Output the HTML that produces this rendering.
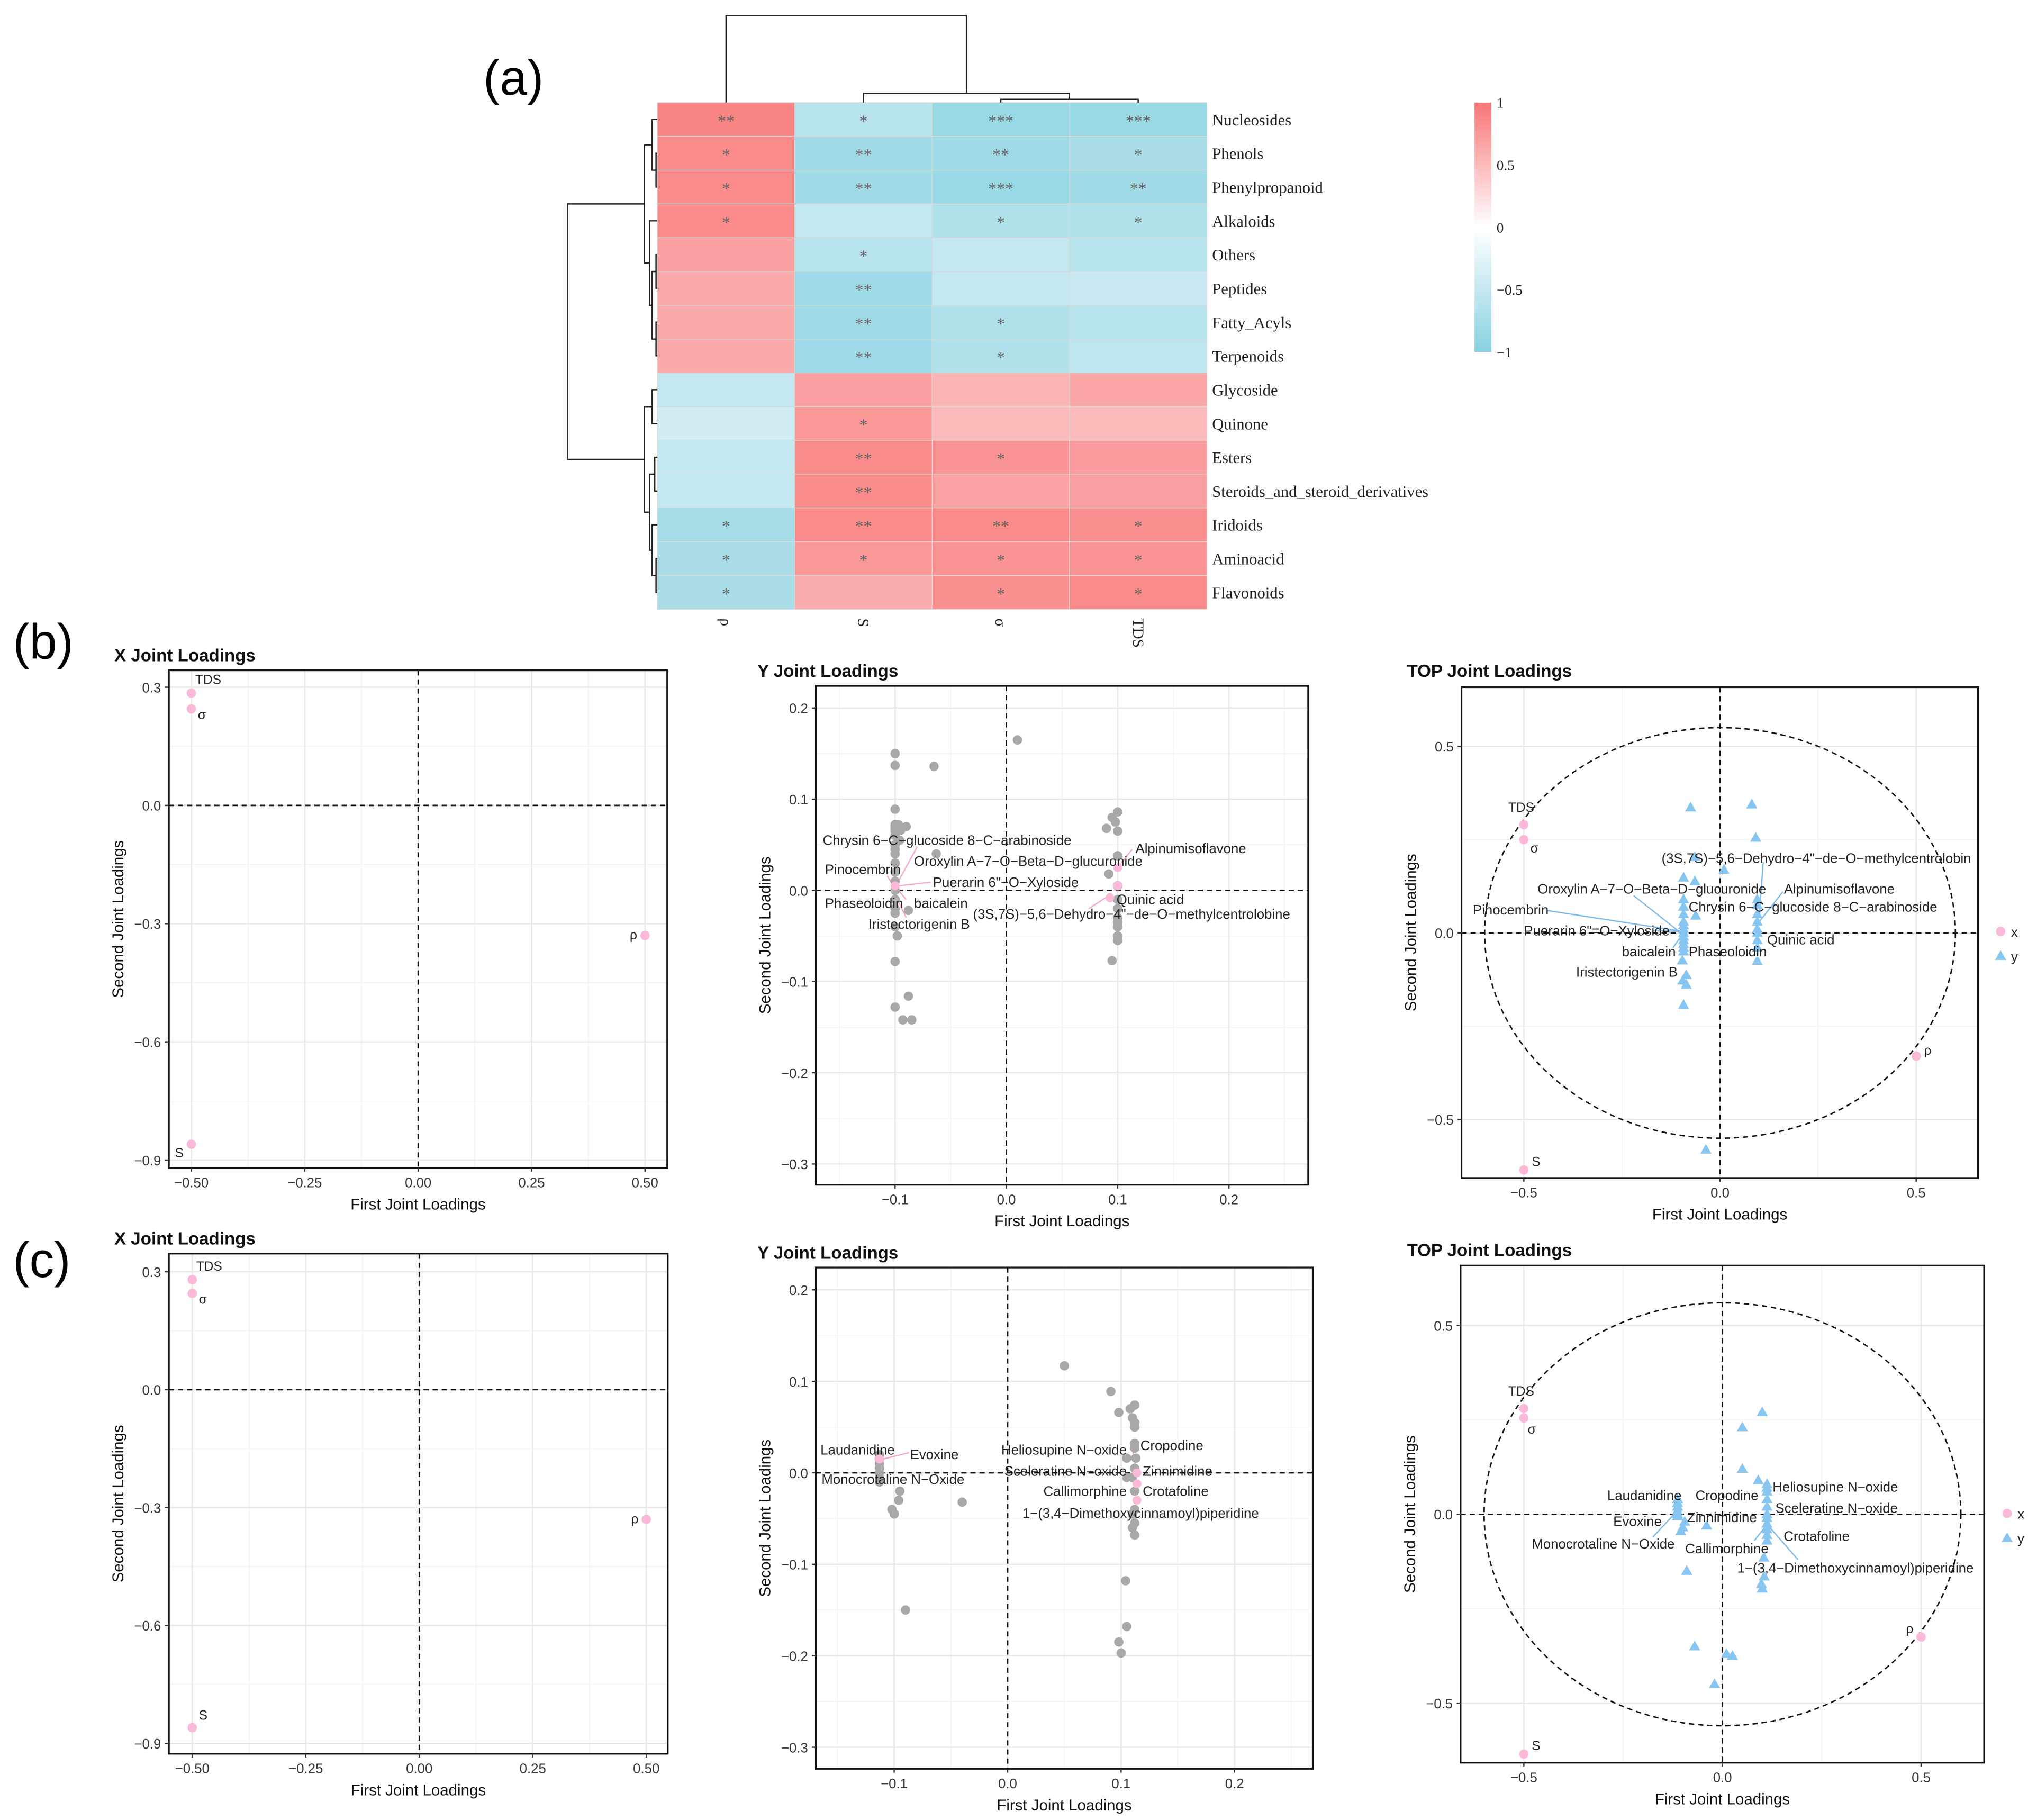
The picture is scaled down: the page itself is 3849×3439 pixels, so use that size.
<!DOCTYPE html>
<html><head><meta charset="utf-8"><style>
html,body{margin:0;padding:0;background:#fff;}
svg{display:block;}
</style></head><body>
<svg id="fig" width="3849" height="3439" viewBox="0 0 1568 1401" preserveAspectRatio="none" font-family="'Liberation Sans', sans-serif">
<rect x="0" y="0" width="1568" height="1401" fill="#fff"/>
<text x="372" y="73" font-size="38">(a)</text>
<text x="10" y="507" font-size="38">(b)</text>
<text x="10" y="983" font-size="38">(c)</text>
</svg>
<script>
// ---------- Heatmap data ----------
const rowsH = ['Nucleosides','Phenols','Phenylpropanoid','Alkaloids','Others','Peptides','Fatty_Acyls','Terpenoids','Glycoside','Quinone','Esters','Steroids_and_steroid_derivatives','Iridoids','Aminoacid','Flavonoids'];
const colsH = ['ρ','S','σ','TDS'];
const valRho = [0.9,0.85,0.85,0.85,0.7,0.62,0.62,0.62,-0.5,-0.4,-0.5,-0.5,-0.75,-0.72,-0.72];
const valS = [-0.6,-0.8,-0.8,-0.5,-0.6,-0.82,-0.8,-0.82,0.7,0.75,0.85,0.85,0.85,0.75,0.6];
const valSigma = [-0.85,-0.8,-0.85,-0.65,-0.5,-0.5,-0.65,-0.65,0.55,0.5,0.78,0.68,0.85,0.78,0.8];
const valTDS = [-0.85,-0.72,-0.8,-0.65,-0.6,-0.45,-0.6,-0.55,0.65,0.5,0.72,0.7,0.82,0.78,0.85];
const starRho = ['**','*','*','*','','','','','','','','','*','*','*'];
const starS = ['*','**','**','','*','**','**','**','','*','**','**','**','*',''];
const starSigma = ['***','**','***','*','','','*','*','','','*','','**','*','*'];
const starTDS = ['***','*','**','*','','','','','','','','','*','*','*'];
const cbTicks = [1,0.5,0,-0.5,-1];
const cbTickLabels = ['1','0.5','0','\u22120.5','\u22121'];

// ---------- X joint loadings ----------
const xLabels = ['TDS','σ','S','ρ'];
const xLoadB1 = [-0.5,-0.5,-0.5,0.5];
const xLoadB2 = [0.285,0.245,-0.86,-0.33];
const xLoadC1 = [-0.5,-0.5,-0.5,0.5];
const xLoadC2 = [0.28,0.245,-0.86,-0.33];

// ---------- Y joint loadings (b) ----------
const yB1 = [-0.1,-0.1,-0.1,-0.1,-0.1,-0.1,-0.1,-0.1,-0.1,-0.1,-0.1,-0.1,-0.1,-0.1,-0.1,-0.1,-0.1,-0.1,-0.1,-0.098,-0.1,-0.1,-0.097,-0.095,-0.09,-0.065,-0.063,-0.088,-0.088,-0.085,-0.093,-0.096,
  0.1,0.095,0.098,0.09,0.1,0.1,0.092,0.1,0.1,0.1,0.1,0.1,0.1,0.1,0.1,0.095,0.01];
const yB2 = [0.15,0.137,0.089,0.072,0.07,0.068,0.065,0.06,0.05,0.045,0.04,0.03,0.02,0.01,0.0,-0.01,-0.02,-0.025,-0.04,-0.05,-0.078,-0.128,0.072,0.066,0.07,0.136,0.04,-0.022,-0.116,-0.142,-0.142,0.055,
  0.086,0.08,0.075,0.068,0.065,0.038,0.018,0.005,-0.01,-0.02,-0.03,-0.04,-0.05,-0.055,-0.035,-0.077,0.165];
const yB1hl = [0.1,0.1,0.093,-0.1];
const yB2hl = [0.025,0.005,-0.008,0.005];
const yBLabels = ['Chrysin 6\u2212C\u2212glucoside 8\u2212C\u2212arabinoside','Oroxylin A\u22127\u2212O\u2212Beta\u2212D\u2212glucuronide','Pinocembrin','Puerarin 6"\u2212O\u2212Xyloside','Phaseoloidin','baicalein','Iristectorigenin B','Alpinumisoflavone','Quinic acid','(3S,7S)\u22125,6\u2212Dehydro\u22124"\u2212de\u2212O\u2212methylcentrolobine'];
const yBLabX = [-0.165,-0.083,-0.163,-0.066,-0.163,-0.083,-0.124,0.116,0.099,-0.03];
const yBLabY = [0.055,0.032,0.023,0.009,-0.014,-0.014,-0.037,0.046,-0.01,-0.026];

// ---------- Y joint loadings (c) ----------
const yC1 = [-0.113,-0.113,-0.113,-0.113,-0.113,-0.113,-0.113,-0.095,-0.096,-0.102,-0.1,-0.04,-0.09,
  0.05,0.091,0.098,0.108,0.112,0.11,0.112,0.112,0.112,0.112,0.105,0.113,0.112,0.11,0.105,0.112,0.112,0.11,0.112,0.11,0.112,0.104,0.105,0.098,0.1];
const yC2 = [0.02,0.015,0.01,0.005,0.0,-0.005,-0.01,-0.02,-0.03,-0.04,-0.045,-0.032,-0.15,
  0.117,0.089,0.066,0.07,0.074,0.06,0.055,0.05,0.032,0.027,0.016,0.016,0.005,-0.005,-0.005,-0.02,-0.04,-0.045,-0.055,-0.06,-0.068,-0.118,-0.168,-0.185,-0.197];
const yC1hl = [0.114,0.114,0.114,-0.113];
const yC2hl = [0.0,-0.012,-0.03,0.015];
const yCLabels = ['Laudanidine','Evoxine','Monocrotaline N\u2212Oxide','Heliosupine N\u2212oxide','Cropodine','Sceleratine N\u2212oxide','Zinnimidine','Callimorphine','Crotafoline','1\u2212(3,4\u2212Dimethoxycinnamoyl)piperidine'];
const yCLabX = [-0.165,-0.086,-0.164,0.105,0.117,0.105,0.119,0.105,0.119,0.013];
const yCLabY = [0.025,0.02,-0.007,0.025,0.03,0.002,0.002,-0.02,-0.02,-0.044];
const yCLabAnchor = ['start','start','start','end','start','end','start','end','start','start'];

// ---------- TOP joint loadings (b) ---------- order: TDS, σ, S, ρ
const topBx1 = [-0.5,-0.5,-0.5,0.5];
const topBx2 = [0.29,0.25,-0.635,-0.33];
const topBy1 = [-0.075,0.081,0.091,0.01,-0.064,-0.093,-0.064,-0.062,-0.093,-0.093,-0.093,-0.093,-0.093,-0.093,-0.093,-0.093,-0.093,-0.093,-0.093,-0.093,-0.096,-0.086,-0.095,-0.086,-0.093,-0.036,0.095,0.095,0.095,0.095,0.095,0.095,0.095,0.095,0.095];
const topBy2 = [0.336,0.344,0.255,0.169,0.203,0.148,0.138,0.046,0.09,0.07,0.05,0.03,0.02,0.01,0.0,-0.01,-0.02,-0.03,-0.04,-0.05,-0.074,-0.113,-0.128,-0.139,-0.193,-0.581,0.09,0.075,0.05,0.03,0.01,0.0,-0.02,-0.04,-0.075];
const topBLabels = ['(3S,7S)\u22125,6\u2212Dehydro\u22124"\u2212de\u2212O\u2212methylcentrolobin','Oroxylin A\u22127\u2212O\u2212Beta\u2212D\u2212glucuronide','Alpinumisoflavone','Pinocembrin','Chrysin 6\u2212C\u2212glucoside 8\u2212C\u2212arabinoside','Puerarin 6"=O\u2212Xyloside','Quinic acid','baicalein','Phaseoloidin','Iristectorigenin B'];
const topBLabX = [-0.149,-0.465,0.163,-0.63,-0.08,-0.5,0.12,-0.25,-0.08,-0.367];
const topBLabY = [0.2,0.118,0.118,0.062,0.07,0.006,-0.018,-0.05,-0.05,-0.105];

// ---------- TOP joint loadings (c) ---------- order: TDS, σ, S, ρ
const topCx1 = [-0.5,-0.5,-0.5,0.5];
const topCx2 = [0.28,0.255,-0.635,-0.325];
const topCy1 = [-0.113,-0.113,-0.113,-0.113,-0.113,-0.113,-0.095,-0.1,-0.105,-0.04,-0.09,0.1,0.05,0.05,0.09,0.112,0.112,0.112,0.112,0.112,0.112,0.112,0.112,0.112,0.112,0.112,0.104,0.105,0.098,0.1,-0.07,0.01,0.025,-0.02];
const topCy2 = [0.04,0.03,0.02,0.01,0.0,-0.005,-0.02,-0.035,-0.045,-0.03,-0.15,0.27,0.23,0.12,0.09,0.08,0.06,0.04,0.02,0.0,-0.01,-0.025,-0.04,-0.055,-0.07,0.07,-0.115,-0.165,-0.185,-0.197,-0.35,-0.37,-0.375,-0.45];
const topCLabels = ['Heliosupine N\u2212oxide','Laudanidine','Cropodine','Sceleratine N\u2212oxide','Evoxine','Zinnimidine','Crotafoline','Monocrotaline N\u2212Oxide','Callimorphine','1\u2212(3,4\u2212Dimethoxycinnamoyl)piperidine'];
const topCLabX = [0.126,-0.29,-0.068,0.133,-0.275,-0.089,0.154,-0.48,-0.094,0.037];
const topCLabY = [0.072,0.05,0.05,0.016,-0.019,-0.008,-0.058,-0.078,-0.091,-0.142];

const svg = document.getElementById('fig');
const NS = svg.namespaceURI;
function mk(tag, attrs, parent){
  const e = document.createElementNS(NS, tag);
  for (const k in attrs) e.setAttribute(k, attrs[k]);
  (parent || svg).appendChild(e);
  return e;
}
function txt(s, attrs, parent){ const e = mk('text', attrs, parent); e.textContent = s; return e; }

// ---------------- Heatmap ----------------
(function(){
  const g = mk('g', {});
  
  
  const left = 506, top = 79, cw = 105.75, rh = 26;
  const cols = [valRho, valS, valSigma, valTDS];
  const stars = [starRho, starS, starSigma, starTDS];
  function col(v){
    const t = Math.max(-1, Math.min(1, v));
    let c = t >= 0 ? [248,118,118] : [135,209,224];
    const a = Math.abs(t);
    return 'rgb(' + c.map(x => Math.round(255 + (x - 255) * a)).join(',') + ')';
  }
  for (let j = 0; j < colsH.length; j++) {
    for (let i = 0; i < rowsH.length; i++) {
      const r = mk('rect', {x: left + j*cw, y: top + i*rh, width: cw, height: rh, fill: col(cols[j][i]), stroke: '#d8d8d8', 'stroke-width': 0.5}, g);
      
      
      if (stars[j][i]) {
        const s = txt(stars[j][i], {x: left + j*cw + cw/2, y: top + i*rh + rh/2 + 5.5, 'text-anchor': 'middle', 'font-size': 13, fill: '#666', 'font-family': "'Liberation Serif', serif"}, g);
        
        
      }
    }
    const cl = txt(colsH[j], {x: 0, y: 0, transform: 'translate(' + (left + j*cw + cw/2 - 4) + ',476) rotate(90)', 'font-size': 12, 'font-family': "'Liberation Serif', serif", fill: '#222'}, g);
    
    
  }
  for (let i = 0; i < rowsH.length; i++) {
    const rl = txt(rowsH[i], {x: 933, y: top + i*rh + rh/2 + 4.5, 'font-size': 12.5, 'font-family': "'Liberation Serif', serif", fill: '#222'}, g);
    
    
  }
  const dg = mk('g', {stroke: '#222', 'stroke-width': 1, fill: 'none'}, g);
  
  
  const ry = i => top + i*rh + rh/2;
  function rj(a, b, x){
    mk('path', {d: 'M' + a.x + ',' + a.y + 'H' + x + 'V' + b.y + 'H' + b.x}, dg);
    return {x: x, y: (a.y + b.y)/2};
  }
  const L = i => ({x: left, y: ry(i)});
  const pp = rj(L(1), L(2), 505);
  const A = rj(L(0), pp, 502);
  const op = rj(L(4), L(5), 505);
  const ft = rj(L(6), L(7), 505);
  const rest = rj(op, ft, 502);
  const B = rj(L(3), rest, 500);
  const top1 = rj(A, B, 496);
  const gq = rj(L(8), L(9), 502);
  const es = rj(L(10), L(11), 504);
  const af = rj(L(13), L(14), 505);
  const ir = rj(L(12), af, 502);
  const r2 = rj(es, ir, 500);
  const bot = rj(gq, r2, 496);
  rj(top1, bot, 437);
  const C = j => ({x: left + j*cw + cw/2, y: top});
  function cj(a, b, y){
    mk('path', {d: 'M' + a.x + ',' + a.y + 'V' + y + 'H' + b.x + 'V' + b.y}, dg);
    return {x: (a.x + b.x)/2, y: y};
  }
  const st = cj(C(2), C(3), 76.5);
  const sst = cj(C(1), st, 72);
  cj(C(0), sst, 12);
  const defs = mk('defs', {});
  const lg = mk('linearGradient', {id: 'cbg', x1: 0, y1: 0, x2: 0, y2: 1}, defs);
  mk('stop', {offset: '0', 'stop-color': col(1)}, lg);
  mk('stop', {offset: '0.25', 'stop-color': col(0.5)}, lg);
  mk('stop', {offset: '0.5', 'stop-color': '#fff'}, lg);
  mk('stop', {offset: '0.75', 'stop-color': col(-0.5)}, lg);
  mk('stop', {offset: '1', 'stop-color': col(-1)}, lg);
  const cb = mk('rect', {x: 1135, y: 79, width: 13, height: 192, fill: 'url(#cbg)'}, g);
  
  
  for (let k = 0; k < cbTicks.length; k++) {
    const y = 79 + (1 - cbTicks[k]) / 2 * 192;
    const t = txt(cbTickLabels[k], {x: 1152, y: y + 4, 'font-size': 11, 'font-family': "'Liberation Serif', serif", fill: '#222'}, g);
    
    
  }
})();

// ---------------- Scatter panels ----------------
function panel(o){
  const g = mk('g', {});
  
  
  const X = v => o.xp1 + (v - o.xv1) * (o.xp2 - o.xp1) / (o.xv2 - o.xv1);
  const Y = v => o.yp1 + (v - o.yv1) * (o.yp2 - o.yp1) / (o.yv2 - o.yv1);
  const clip = 'clip' + o.name;
  const cp = mk('clipPath', {id: clip}, g);
  mk('rect', {x: o.bx0, y: o.by0, width: o.bx1 - o.bx0, height: o.by1 - o.by0}, cp);
  const pg = mk('g', {'clip-path': 'url(#' + clip + ')'}, g);
  o.xminor.forEach(v => mk('line', {x1: X(v), x2: X(v), y1: o.by0, y2: o.by1, stroke: '#f2f2f2', 'stroke-width': 0.6}, pg));
  o.yminor.forEach(v => mk('line', {y1: Y(v), y2: Y(v), x1: o.bx0, x2: o.bx1, stroke: '#f2f2f2', 'stroke-width': 0.6}, pg));
  o.xticks.forEach(v => mk('line', {x1: X(v), x2: X(v), y1: o.by0, y2: o.by1, stroke: '#e8e8e8', 'stroke-width': 1}, pg));
  o.yticks.forEach(v => mk('line', {y1: Y(v), y2: Y(v), x1: o.bx0, x2: o.bx1, stroke: '#e8e8e8', 'stroke-width': 1}, pg));
  if (o.circle) {
    const el = mk('ellipse', {cx: X(0), cy: Y(0), rx: Math.abs(X(o.circle[0]) - X(0)), ry: Math.abs(Y(o.circle[1]) - Y(0)), fill: 'none', stroke: '#111', 'stroke-width': 1.1, 'stroke-dasharray': '4 3'}, pg);
    
    
  }
  const vx = mk('line', {x1: X(0), x2: X(0), y1: o.by0, y2: o.by1, stroke: '#111', 'stroke-width': 1.1, 'stroke-dasharray': '4 3'}, pg);
  
  
  const hz = mk('line', {y1: Y(0), y2: Y(0), x1: o.bx0, x2: o.bx1, stroke: '#111', 'stroke-width': 1.1, 'stroke-dasharray': '4 3'}, pg);
  
  
  (o.leaders || []).forEach(l => mk('line', {x1: X(l[0]), y1: Y(l[1]), x2: X(l[2]), y2: Y(l[3]), stroke: o.leaderColor, 'stroke-width': 1}, pg));
  if (o.grey) for (let i = 0; i < o.grey[0].length; i++) {
    const c = mk('circle', {cx: X(o.grey[0][i]), cy: Y(o.grey[1][i]), r: 3.6, fill: '#a8a8a8'}, pg);
    
    
  }
  if (o.hl) for (let i = 0; i < o.hl[0].length; i++) {
    const c = mk('circle', {cx: X(o.hl[0][i]), cy: Y(o.hl[1][i]), r: 3.4, fill: '#fbb8d8'}, pg);
    
    
  }
  if (o.tri) for (let i = 0; i < o.tri[0].length; i++) {
    const cx = X(o.tri[0][i]), cy = Y(o.tri[1][i]);
    const t = mk('path', {d: 'M' + cx + ',' + (cy - 4.5) + 'L' + (cx + 4.3) + ',' + (cy + 3) + 'L' + (cx - 4.3) + ',' + (cy + 3) + 'Z', fill: '#88c6f2'}, pg);
    
    
  }
  if (o.pink) for (let i = 0; i < o.pink[0].length; i++) {
    const c = mk('circle', {cx: X(o.pink[0][i]), cy: Y(o.pink[1][i]), r: 3.6, fill: '#fbb8d8'}, pg);
    
    
    const off = o.pinkOff[i];
    const l = txt(xLabels[i], {x: X(o.pink[0][i]) + off[0], y: Y(o.pink[1][i]) + off[1], 'font-size': 10, fill: '#222', 'text-anchor': off[2]}, pg);
    
    
  }
  if (o.labels) for (let i = 0; i < o.labels[0].length; i++) {
    const l = txt(o.labels[0][i], {x: X(o.labels[1][i]), y: Y(o.labels[2][i]) + 3.6, 'font-size': 10.5, fill: '#222', 'text-anchor': o.labels[3] ? o.labels[3][i] : 'start'}, pg);
    
    
  }
  const box = mk('rect', {x: o.bx0, y: o.by0, width: o.bx1 - o.bx0, height: o.by1 - o.by0, fill: 'none', stroke: '#111', 'stroke-width': 1.3}, g);
  
  
  for (let k = 0; k < o.xticks.length; k++) {
    mk('line', {x1: X(o.xticks[k]), x2: X(o.xticks[k]), y1: o.by1, y2: o.by1 + 3, stroke: '#333'}, g);
    const t = txt(o.xtl[k], {x: X(o.xticks[k]), y: o.by1 + 15, 'font-size': 10.5, fill: '#333', 'text-anchor': 'middle'}, g);
    
    
  }
  for (let k = 0; k < o.yticks.length; k++) {
    mk('line', {x1: o.bx0 - 3, x2: o.bx0, y1: Y(o.yticks[k]), y2: Y(o.yticks[k]), stroke: '#333'}, g);
    const t = txt(o.ytl[k], {x: o.bx0 - 6, y: Y(o.yticks[k]) + 4, 'font-size': 10.5, fill: '#333', 'text-anchor': 'end'}, g);
    
    
  }
  const xt = txt('First Joint Loadings', {x: (o.bx0 + o.bx1)/2, y: o.by1 + 32, 'font-size': 12, fill: '#111', 'text-anchor': 'middle'}, g);
  
  
  const yt = txt('Second Joint Loadings', {x: 0, y: 0, transform: 'translate(' + (o.bx0 - 35) + ',' + ((o.by0 + o.by1)/2) + ') rotate(-90)', 'font-size': 12, fill: '#111', 'text-anchor': 'middle'}, g);
  
  
  const tt = txt(o.title, {x: o.tx, y: o.ty, 'font-size': 13.5, 'font-weight': 'bold', fill: '#111'}, g);
  
  
  if (o.legend) {
    const lx = o.legend[0], ly = o.legend[1];
    const c = mk('circle', {cx: lx, cy: ly, r: 3.6, fill: '#fbb8d8'}, g);
    
    
    const t1 = txt('x', {x: lx + 8, y: ly + 4, 'font-size': 10.5, fill: '#222'}, g);
    
    
    const ty = ly + 19;
    const tr = mk('path', {d: 'M' + lx + ',' + (ty - 4.5) + 'L' + (lx + 4.3) + ',' + (ty + 3) + 'L' + (lx - 4.3) + ',' + (ty + 3) + 'Z', fill: '#88c6f2'}, g);
    
    
    const t2 = txt('y', {x: lx + 8, y: ty + 4, 'font-size': 10.5, fill: '#222'}, g);
    
    
  }
}

const xPanelTicks = {xticks: [-0.5,-0.25,0,0.25,0.5], xtl: ['\u22120.50','\u22120.25','0.00','0.25','0.50'], xminor: [-0.375,-0.125,0.125,0.375],
  yticks: [0.3,0,-0.3,-0.6,-0.9], ytl: ['0.3','0.0','\u22120.3','\u22120.6','\u22120.9'], yminor: [0.15,-0.15,-0.45,-0.75]};
const yPanelTicks = {xticks: [-0.1,0,0.1,0.2], xtl: ['\u22120.1','0.0','0.1','0.2'], xminor: [-0.15,-0.05,0.05,0.15,0.25],
  yticks: [0.2,0.1,0,-0.1,-0.2,-0.3], ytl: ['0.2','0.1','0.0','\u22120.1','\u22120.2','\u22120.3'], yminor: [0.15,0.05,-0.05,-0.15,-0.25]};
const topPanelTicks = {xticks: [-0.5,0,0.5], xtl: ['\u22120.5','0.0','0.5'], xminor: [-0.25,0.25],
  yticks: [0.5,0,-0.5], ytl: ['0.5','0.0','\u22120.5'], yminor: [0.25,-0.25]};

panel(Object.assign({name: 'x-loadings-b', title: 'X Joint Loadings', tx: 88, ty: 509, bx0: 130, by0: 516, bx1: 513.6, by1: 899,
  xv1: -0.5, xp1: 147.3, xv2: 0.5, xp2: 496.5, yv1: 0.3, yp1: 529, yv2: -0.9, yp2: 893,
  pink: [xLoadB1, xLoadB2], pinkOff: [[3,-7,'start'],[5,8,'start'],[-6,10,'end'],[-6,3,'end']]}, xPanelTicks));
panel(Object.assign({name: 'x-loadings-c', title: 'X Joint Loadings', tx: 88, ty: 958, bx0: 130, by0: 965, bx1: 514, by1: 1350,
  xv1: -0.5, xp1: 148, xv2: 0.5, xp2: 497.5, yv1: 0.3, yp1: 979, yv2: -0.9, yp2: 1342,
  pink: [xLoadC1, xLoadC2], pinkOff: [[3,-7,'start'],[5,8,'start'],[5,-6,'start'],[-6,3,'end']]}, xPanelTicks));

panel(Object.assign({name: 'y-loadings-b', title: 'Y Joint Loadings', tx: 583, ty: 521, bx0: 628, by0: 528, bx1: 1007, by1: 912,
  xv1: -0.1, xp1: 689, xv2: 0.2, xp2: 946, yv1: 0.2, yp1: 545, yv2: -0.3, yp2: 896,
  grey: [yB1, yB2], hl: [yB1hl, yB2hl], labels: [yBLabels, yBLabX, yBLabY], leaderColor: '#f7a8cc',
  leaders: [[-0.08,0.048,-0.097,0.01],[-0.107,0.016,-0.099,0.0],[-0.068,0.009,-0.097,0.005],[-0.09,-0.01,-0.097,0.0],[-0.09,-0.03,-0.098,-0.01],[0.113,0.045,0.1,0.025],[0.074,-0.02,0.093,-0.005]]}, yPanelTicks));
panel(Object.assign({name: 'y-loadings-c', title: 'Y Joint Loadings', tx: 583, ty: 969, bx0: 628, by0: 975.7, bx1: 1010.5, by1: 1361.6,
  xv1: -0.1, xp1: 688.3, xv2: 0.2, xp2: 950.3, yv1: 0.2, yp1: 992.9, yv2: -0.3, yp2: 1345,
  grey: [yC1, yC2], hl: [yC1hl, yC2hl], labels: [yCLabels, yCLabX, yCLabY, yCLabAnchor], leaderColor: '#f7a8cc',
  leaders: [[-0.087,0.022,-0.11,0.015],[0.11,0.025,0.114,0.0]]}, yPanelTicks));

panel(Object.assign({name: 'top-loadings-b', title: 'TOP Joint Loadings', tx: 1083, ty: 521, bx0: 1125, by0: 529, bx1: 1522.6, by1: 906.8,
  xv1: -0.5, xp1: 1173, xv2: 0.5, xp2: 1475, yv1: 0.5, yp1: 574.5, yv2: -0.5, yp2: 861.8, circle: [0.6, 0.55],
  tri: [topBy1, topBy2], pink: [topBx1, topBx2], pinkOff: [[-12,-10,'start'],[5,10,'start'],[6,-3,'start'],[6,-1,'start']],
  labels: [topBLabels, topBLabX, topBLabY], leaderColor: '#7dbcea',
  leaders: [[-0.44,0.06,-0.1,0.005],[-0.22,0.1,-0.1,0.0],[-0.17,0.006,-0.1,0.004],[0.11,0.19,0.1,0.04],[0.16,0.11,0.1,0.03],[-0.12,-0.04,-0.1,-0.01]],
  legend: [1540, 717]}, topPanelTicks));
panel(Object.assign({name: 'top-loadings-c', title: 'TOP Joint Loadings', tx: 1083, ty: 967, bx0: 1124.3, by0: 974.2, bx1: 1527.3, by1: 1356.9,
  xv1: -0.5, xp1: 1173, xv2: 0.5, xp2: 1478.8, yv1: 0.5, yp1: 1020.3, yv2: -0.5, yp2: 1311, circle: [0.6, 0.56],
  tri: [topCy1, topCy2], pink: [topCx1, topCx2], pinkOff: [[-12,-10,'start'],[3,12,'start'],[6,-3,'start'],[-6,-3,'end']],
  labels: [topCLabels, topCLabX, topCLabY], leaderColor: '#7dbcea',
  leaders: [[-0.175,-0.06,-0.113,0.01],[0.19,-0.12,0.115,-0.03],[0.08,-0.07,0.11,-0.03]],
  legend: [1545, 1165]}, topPanelTicks));
</script>
</body></html>
